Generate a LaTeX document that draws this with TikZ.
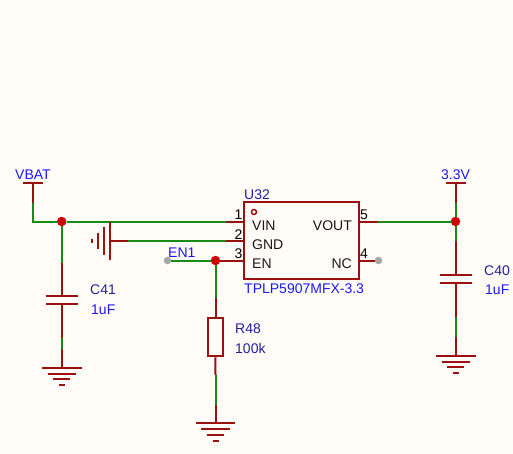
\documentclass[tikz,border=0pt]{standalone}
\usepackage{fontspec}
\setmainfont{Liberation Sans}
\usepackage{xcolor}
\usepackage{tikz}
\usetikzlibrary{positioning, calc}
\definecolor{paper}{HTML}{FFFCF8}
\definecolor{pinred}{HTML}{9C1010}
\definecolor{wiregreen}{HTML}{168C16}
\definecolor{dotred}{HTML}{CC0000}
\definecolor{netblue}{HTML}{1A1AF0}
\definecolor{desnavy}{HTML}{222299}
\tikzset{
	stub/.style={draw=pinred, line width=2pt},
	wire/.style={draw=wiregreen, line width=2pt},
	plate/.style={draw=pinred, line width=2pt},
	junction/.style={circle, fill=dotred, inner sep=0, minimum size=9.5pt},
	opendot/.style={circle, fill=gray!70, inner sep=0, minimum size=7.5pt},
	net/.style={text=netblue, font=\fontsize{14}{16}\selectfont, inner sep=0},
	des/.style={text=desnavy, font=\fontsize{14}{16}\selectfont, inner sep=0},
	pinnum/.style={text=black, font=\fontsize{14}{16}\selectfont, inner sep=0},
	pinname/.style={text=black!90, font=\fontsize{14}{16}\selectfont, inner sep=0}
}
\begin{document}
\begin{tikzpicture}[x=1pt, y=-1pt]
	\useasboundingbox (0,0) rectangle (513,454);
	\fill[paper] (0,0) rectangle (513,454);
	%% chip
	\node[draw=pinred, line width=2pt, minimum width=115.3pt, minimum height=76.7pt, inner sep=0] (u32) at (301.6,240.7) {};
	\draw[pinred, line width=1.5pt] (254,212) circle (2.5);
	\coordinate (pinvin) at (244,221.5);
	\coordinate (pingnd) at (244,240.5);
	\coordinate (pinen) at (244,260.5);
	\coordinate (pinvout) at (359.3,221.5);
	\node[pinname, anchor=west] (lvin) at (252,225.5) {VIN};
	\node[pinname, anchor=west] (lgnd) at (252,244.5) {GND};
	\node[pinname, anchor=west] (len) at (252,263.5) {EN};
	\node[pinname, anchor=east] (lvout) at (352,225.5) {VOUT};
	\node[pinname, anchor=east] (lnc) at (352,263.5) {NC};
	\node[pinnum] (n1) at (238.5,215) {1};
	\node[pinnum] (n2) at (238.5,234.5) {2};
	\node[pinnum] (n3) at (238.5,254) {3};
	\node[pinnum] (n5) at (364,215) {5};
	\node[pinnum] (n4) at (364,254) {4};
	\node[des, anchor=west] (u32name) at (244,194.5) {U32};
	\node[net, anchor=west] (u32val) at (244,289) {TPLP5907MFX-3.3};
	%% junctions and free ends
	\node[junction] (jbat) at (61.7,221.5) {};
	\node[junction] (jen) at (215.5,260.5) {};
	\node[junction] (jout) at (455.5,221.5) {};
	\node[opendot] (dotnc) at (378.5,260.5) {};
	\node[opendot] (doten) at (167.5,260.5) {};
	\coordinate (batcap) at (33,183);
	\coordinate (batbend) at (33,221.5);
	\coordinate (gndtee) at (110,221.5);
	\coordinate (gndin) at (110,240.5);
	\coordinate (outcap) at (455.5,183);
	%% VBAT
	\draw[stub] (23,183) -- (43,183);
	\draw[stub] (batcap) -- (33,203);
	\draw[wire] (33,203) -- (batbend) -- (jbat) -- (226,221.5);
	\draw[stub] (226,221.5) -- (pinvin);
	\node[net] (vbat) at (33,175) {VBAT};
	%% pin 2 to ground
	\draw[plate] (gndtee) -- (110,260);
	\draw[plate] (103.5,227) -- (103.5,254.5);
	\draw[plate] (98,233) -- (98,249);
	\draw[plate] (92.3,238.5) -- (92.3,243);
	\draw[stub] (gndin) -- (128,240.5);
	\draw[wire] (128,240.5) -- (226,240.5);
	\draw[stub] (226,240.5) -- (pingnd);
	%% EN
	\draw[wire] (doten) -- (jen);
	\draw[stub] (jen) -- (pinen);
	\node[net, anchor=west] (en1) at (168,252.5) {EN1};
	\draw[wire] (jen) -- (215.5,298);
	\draw[stub] (215.5,298) -- (215.5,317.7);
	\node[draw=pinred, line width=2pt, minimum width=15.5pt, minimum height=38.5pt, inner sep=0] (r48) at (215.3,337) {};
	\node[des, anchor=west] (r48name) at (235,329) {R48};
	\node[des, anchor=west] (r48val) at (235,348.5) {100k};
	\draw[stub] (r48) -- (215.5,375);
	\draw[wire] (215.5,375) -- (215.5,405);
	\draw[stub] (215.5,405) -- (215.5,423);
	\draw[plate] (195.5,423) -- (235,423);
	\draw[plate] (201,429) -- (229.5,429);
	\draw[plate] (207,435) -- (224,435);
	\draw[plate] (213,440.5) -- (219,440.5);
	%% C41
	\draw[wire] (jbat) -- (61.7,262.7);
	\draw[stub] (61.7,262.7) -- (61.7,296);
	\draw[plate] (46,296) -- (77.5,296);
	\draw[plate] (46,304) -- (77.5,304);
	\draw[stub] (61.7,304) -- (61.7,338);
	\draw[wire] (61.7,338) -- (61.7,349);
	\draw[stub] (61.7,349) -- (61.7,367.5);
	\draw[plate] (42,367.5) -- (82,367.5);
	\draw[plate] (48,373.5) -- (76,373.5);
	\draw[plate] (53,379) -- (70,379);
	\draw[plate] (59,385) -- (65,385);
	\node[des, anchor=west] (c41name) at (90,290) {C41};
	\node[net, anchor=west] (c41val) at (91,310) {1uF};
	%% VOUT
	\draw[stub] (pinvout) -- (378,221.5);
	\draw[wire] (378,221.5) -- (jout);
	\draw[stub] (359.3,260.5) -- (dotnc);
	\draw[stub] (445.5,183) -- (465.5,183);
	\draw[stub] (outcap) -- (455.5,203);
	\draw[wire] (455.5,203) -- (jout) -- (455.5,241);
	\draw[stub] (455.5,241) -- (455.5,275.3);
	\node[net] (v33) at (455.5,175) {3.3V};
	%% C40
	\draw[plate] (439.5,275.3) -- (472,275.3);
	\draw[plate] (439.5,283) -- (472,283);
	\draw[stub] (455.5,283) -- (455.5,317);
	\draw[wire] (455.5,317) -- (455.5,337);
	\draw[stub] (455.5,337) -- (455.5,356);
	\draw[plate] (435.5,356) -- (475.5,356);
	\draw[plate] (441.5,361.5) -- (470,361.5);
	\draw[plate] (447,367) -- (464,367);
	\draw[plate] (453,373) -- (459,373);
	\node[des, anchor=west] (c40name) at (484,271) {C40};
	\node[net, anchor=west] (c40val) at (485,290) {1uF};
\end{tikzpicture}
\end{document}
